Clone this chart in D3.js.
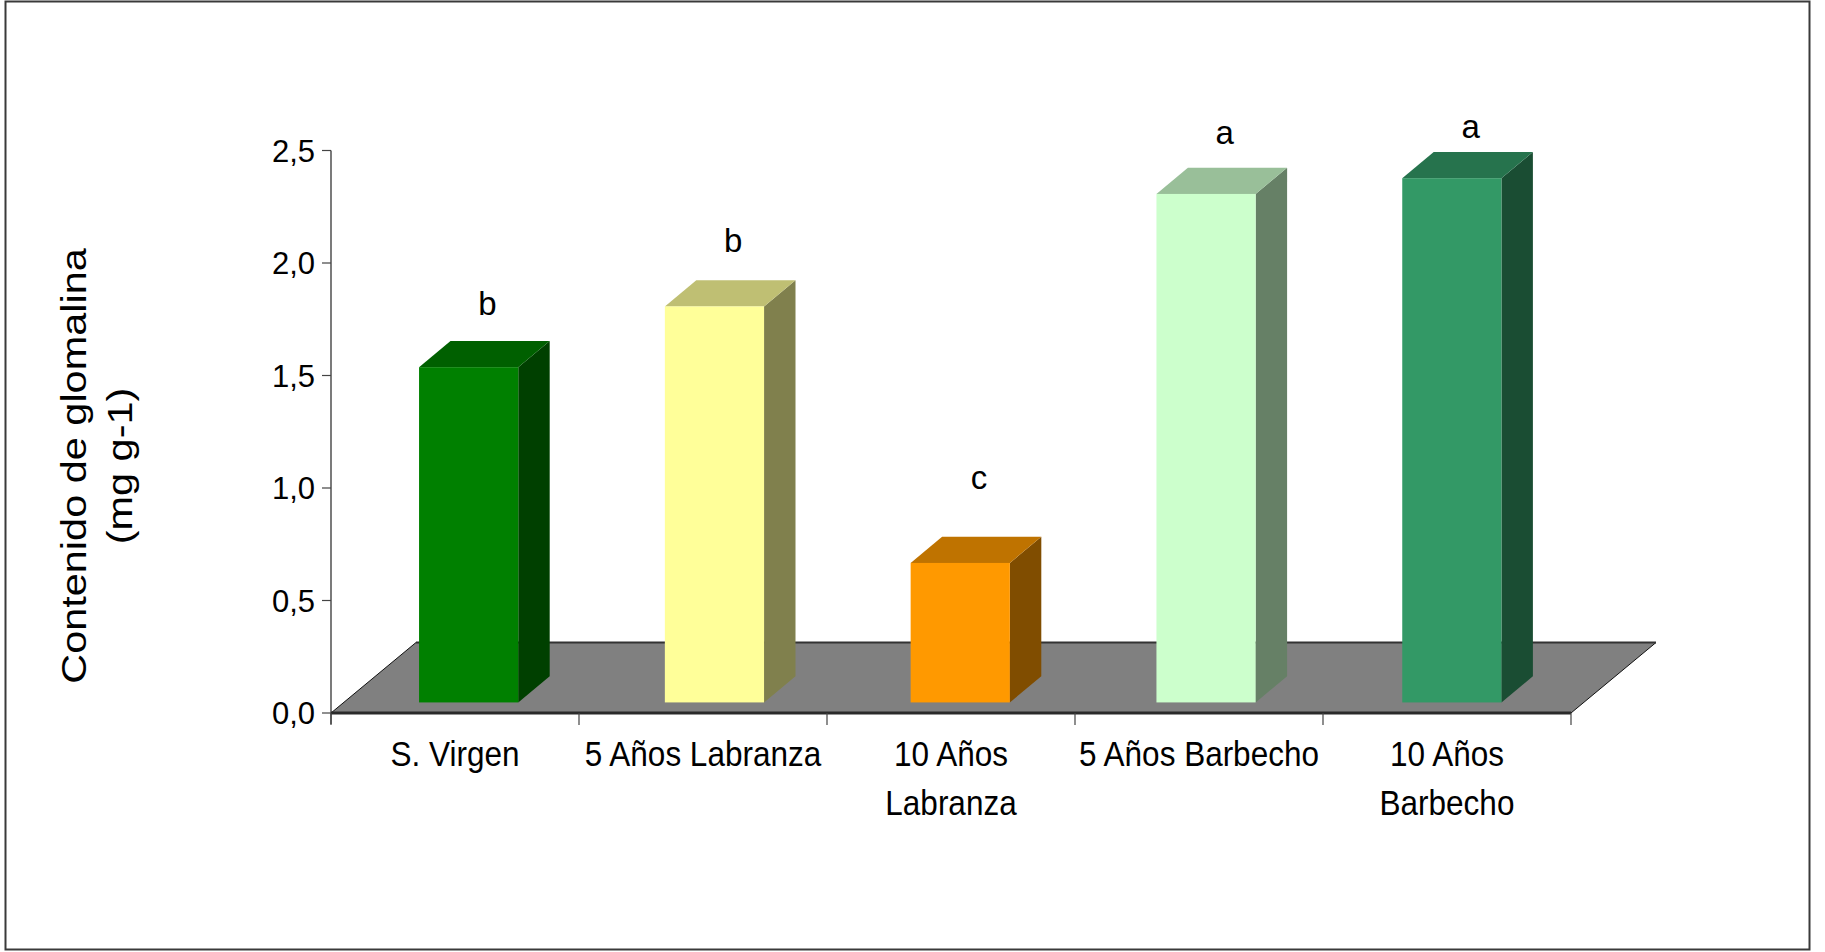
<!DOCTYPE html>
<html lang="es">
<head>
<meta charset="utf-8">
<title>Contenido de glomalina</title>
<script src="https://cdn.jsdelivr.net/npm/d3@7"></script>
<style>
  html, body { margin: 0; padding: 0; background: #ffffff; }
  svg { display: block; }
  text { font-family: "Liberation Sans", Arial, "Helvetica", sans-serif; fill: #000; }
</style>
</head>
<body>
<svg id="chart" width="1825" height="952"></svg>
<script>
// ---- data ----
const categories = ["S. Virgen", "5 Años Labranza", "10 Años Labranza", "5 Años Barbecho", "10 Años Barbecho"];
const categoryLines = [["S. Virgen"], ["5 Años Labranza"], ["10 Años", "Labranza"], ["5 Años Barbecho"], ["10 Años", "Barbecho"]];
const glomalina = [1.49, 1.76, 0.62, 2.26, 2.33];
const letters = ["b", "b", "c", "a", "a"];
const letterLevels = [1.72, 2.0, 0.95, 2.48, 2.51];
const yTicks = [0, 0.5, 1, 1.5, 2, 2.5];
const barColors = ["#008000", "#FFFF99", "#FF9900", "#CCFFCC", "#339966"];
const yTitleLines = ["Contenido de glomalina", "(mg g-1)"];

// ---- layout ----
const svg = d3.select("#chart");

const y = d3.scaleLinear().domain([0, 2.5]).range([713, 150.5]);
// category bands along the front edge of the floor
const x = d3.scaleBand().domain(categories).range([331, 1571]).padding(0);
// column slots, slightly narrower because the columns sit deeper in the scene
const xCol = d3.scaleBand().domain(categories).range([333, 1562]).padding(0);

// oblique depth of the floor and of the columns
const depth = { dx: 85, dy: -70.5 };
const frontT = 0.15;   // column front plane, as a fraction of the floor depth
const thickT = 0.37;   // column thickness, as a fraction of the floor depth
const off = { dx: depth.dx * frontT, dy: depth.dy * frontT };
const thick = { dx: depth.dx * thickT, dy: depth.dy * thickT };
const barFrac = 0.4;

const shade = (c, k) => { const r = d3.rgb(c); return d3.rgb(r.r * k, r.g * k, r.b * k).formatHex(); };
const fmt = v => d3.format(".1f")(v).replace(".", ",");

// outer frame
svg.append("rect")
  .attr("x", 5.5).attr("y", 1.5).attr("width", 1804).attr("height", 948)
  .attr("fill", "#fff").attr("stroke", "#3a3a3a").attr("stroke-width", 2);

// floor
const [x0, x1] = x.range();
const y0 = y(0);
svg.append("path")
  .attr("d", `M${x0},${y0} L${x1},${y0} L${x1 + depth.dx},${y0 + depth.dy} L${x0 + depth.dx},${y0 + depth.dy} Z`)
  .attr("fill", "#808080").attr("stroke", "#111").attr("stroke-width", 1);
svg.append("line")
  .attr("x1", x0 + depth.dx).attr("x2", x1 + depth.dx)
  .attr("y1", y0 + depth.dy).attr("y2", y0 + depth.dy)
  .attr("stroke", "#333").attr("stroke-width", 2);

// y axis
svg.append("line")
  .attr("x1", x0).attr("x2", x0).attr("y1", y(2.5)).attr("y2", y0 + 11)
  .attr("stroke", "#222").attr("stroke-width", 1.2);
const yt = svg.append("g");
yt.selectAll("line").data(yTicks).join("line")
  .attr("x1", x0 - 9).attr("x2", x0)
  .attr("y1", d => y(d)).attr("y2", d => y(d))
  .attr("stroke", "#444").attr("stroke-width", 1.2);
yt.selectAll("text").data(yTicks).join("text")
  .attr("x", 315).attr("y", d => y(d) + 11)
  .attr("text-anchor", "end").attr("font-size", 31)
  .text(fmt);

// x axis (front edge of floor) and category ticks
svg.append("line")
  .attr("x1", x0).attr("x2", x1).attr("y1", y0).attr("y2", y0)
  .attr("stroke", "#2a2a2a").attr("stroke-width", 3);
const catEdges = categories.map(c => x(c)).concat([x1]);
svg.append("g").selectAll("line").data(catEdges).join("line")
  .attr("x1", d => d).attr("x2", d => d)
  .attr("y1", y0).attr("y2", y0 + 12)
  .attr("stroke", "#444").attr("stroke-width", 1.2);

// columns
const bars = svg.append("g").selectAll("g")
  .data(categories.map((c, i) => ({ c, v: glomalina[i], col: barColors[i], i })))
  .join("g");
const bw = x.bandwidth() * barFrac;
const fx = d => xCol(d.c) + (xCol.bandwidth() - bw) / 2 + off.dx;
const fyTop = d => y(d.v) + off.dy;
const fyBase = y(0) + off.dy;

bars.append("path") // side face
  .attr("d", d => {
    const r = fx(d) + bw, t = fyTop(d);
    return `M${r},${fyBase} L${r},${t} L${r + thick.dx},${t + thick.dy} L${r + thick.dx},${fyBase + thick.dy} Z`;
  })
  .attr("fill", d => shade(d.col, 0.5));
bars.append("path") // top face
  .attr("d", d => {
    const l = fx(d), r = l + bw, t = fyTop(d);
    return `M${l},${t} L${r},${t} L${r + thick.dx},${t + thick.dy} L${l + thick.dx},${t + thick.dy} Z`;
  })
  .attr("fill", d => shade(d.col, 0.75));
bars.append("rect") // front face
  .attr("x", fx).attr("y", fyTop)
  .attr("width", bw).attr("height", d => fyBase - fyTop(d))
  .attr("fill", d => d.col);

// significance letters
bars.append("text")
  .attr("x", d => fx(d) + bw / 2 + thick.dx / 2 + 3)
  .attr("y", d => y(letterLevels[d.i]) + off.dy)
  .attr("text-anchor", "middle").attr("font-size", 33)
  .text(d => letters[d.i]);

// category labels
const cl = svg.append("g").selectAll("g")
  .data(categories.map((c, i) => ({ c, lines: categoryLines[i] })))
  .join("g");
cl.selectAll("text").data(d => d.lines.map((t, k) => ({ t, k, cx: x(d.c) + x.bandwidth() / 2 })))
  .join("text")
  .attr("transform", d => `translate(${d.cx},${766 + d.k * 49}) scale(1,1.13)`)
  .attr("text-anchor", "middle").attr("font-size", 31.5)
  .text(d => d.t);

// y axis title
svg.append("g").selectAll("text").data(yTitleLines).join("text")
  .attr("transform", (d, k) => `translate(${86 + k * 46},466) rotate(-90) scale(1.185,1)`)
  .attr("text-anchor", "middle").attr("font-size", 35)
  .text(d => d);
</script>
</body>
</html>
